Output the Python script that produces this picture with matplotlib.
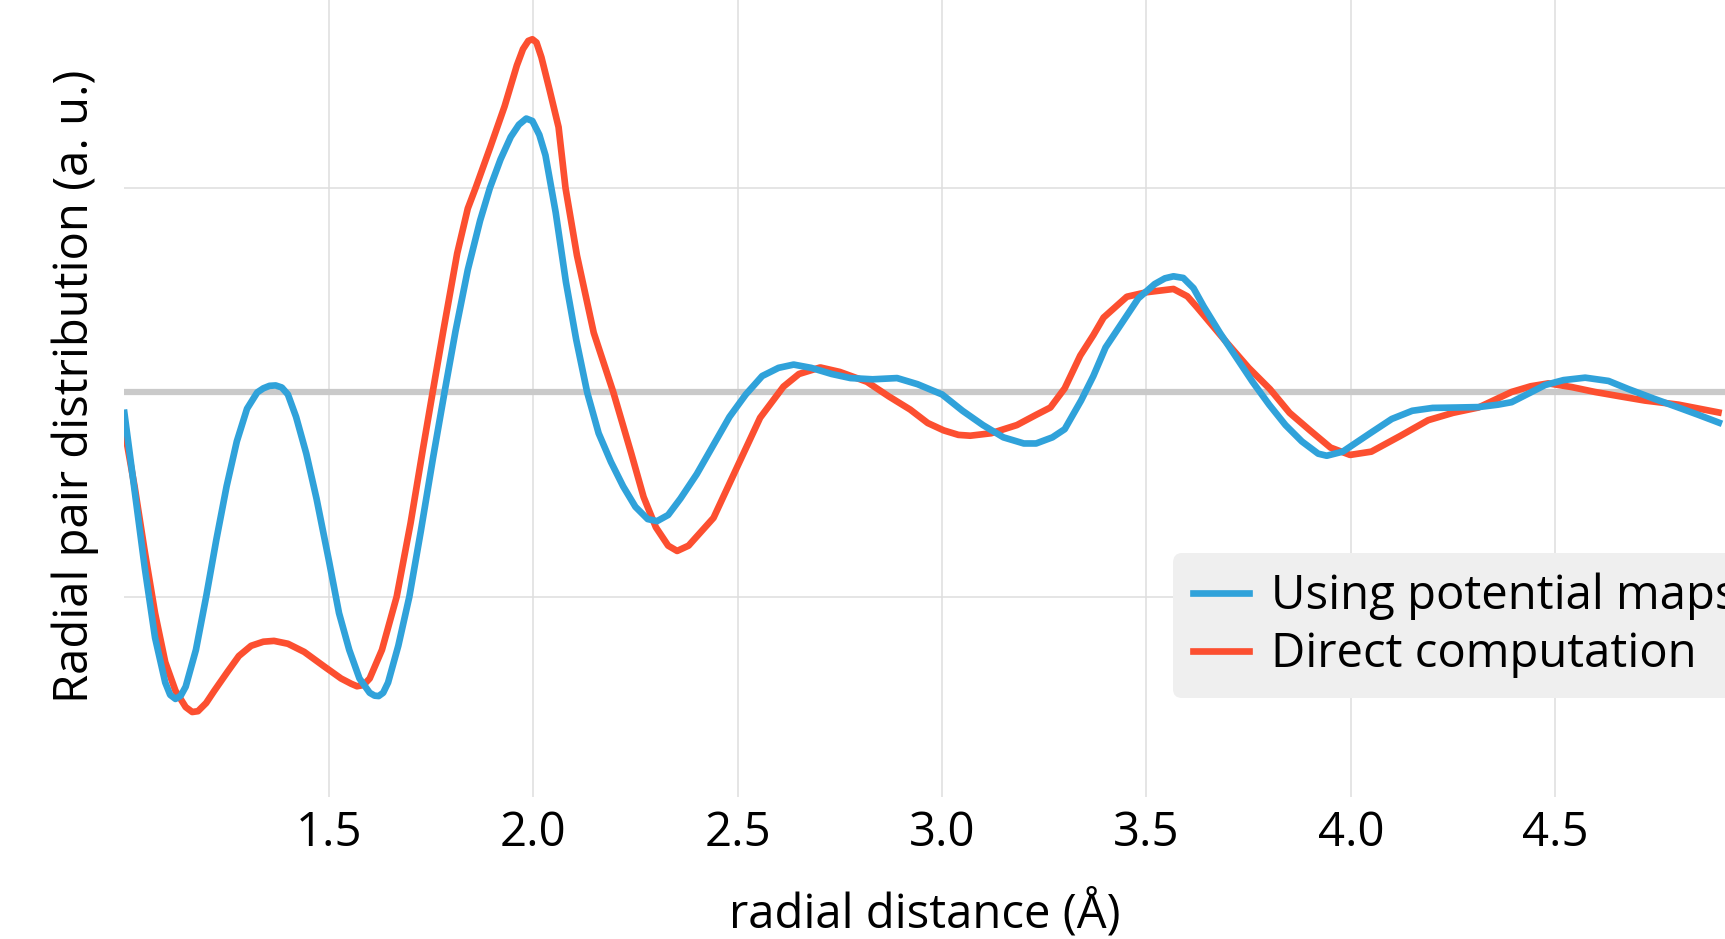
# radial pair distribution
import matplotlib
matplotlib.use('Agg')
import matplotlib.pyplot as plt

# radial distance / Å  (blue: using potential maps)
x_maps = [1.000, 1.025, 1.050, 1.075, 1.100, 1.112, 1.125, 1.138, 1.150, 1.175,
          1.200, 1.225, 1.250, 1.275, 1.300, 1.325, 1.340, 1.355, 1.370, 1.385,
          1.400, 1.420, 1.445, 1.470, 1.500, 1.525, 1.550, 1.575, 1.600, 1.612,
          1.622, 1.633, 1.645, 1.670, 1.697, 1.725, 1.755, 1.783, 1.810, 1.840,
          1.870, 1.894, 1.920, 1.945, 1.965, 1.983, 1.998, 2.015, 2.030, 2.055,
          2.080, 2.105, 2.132, 2.160, 2.190, 2.220, 2.250, 2.280, 2.303, 2.330,
          2.360, 2.400, 2.440, 2.480, 2.520, 2.560, 2.600, 2.637, 2.680, 2.730,
          2.776, 2.830, 2.890, 2.940, 3.000, 3.050, 3.100, 3.150, 3.200, 3.230,
          3.270, 3.300, 3.340, 3.370, 3.400, 3.440, 3.480, 3.520, 3.545, 3.566,
          3.590, 3.615, 3.640, 3.680, 3.720, 3.760, 3.800, 3.840, 3.880, 3.920,
          3.941, 3.980, 4.047, 4.100, 4.150, 4.200, 4.260, 4.312, 4.360, 4.393,
          4.440, 4.475, 4.520, 4.573, 4.630, 4.679, 4.740, 4.801, 4.850, 4.900]
y_maps = [0.950, 0.760, 0.570, 0.400, 0.290, 0.260, 0.250, 0.258, 0.280, 0.370,
          0.500, 0.640, 0.770, 0.880, 0.960, 1.000, 1.010, 1.016, 1.017, 1.012,
          0.995, 0.940, 0.850, 0.740, 0.590, 0.460, 0.370, 0.300, 0.265, 0.258,
          0.257, 0.265, 0.290, 0.380, 0.500, 0.660, 0.840, 1.000, 1.150, 1.300,
          1.420, 1.500, 1.570, 1.625, 1.655, 1.670, 1.664, 1.630, 1.580, 1.440,
          1.270, 1.130, 1.000, 0.900, 0.830, 0.770, 0.720, 0.690, 0.685, 0.700,
          0.740, 0.800, 0.870, 0.940, 0.995, 1.040, 1.060, 1.068, 1.060, 1.045,
          1.035, 1.032, 1.035, 1.020, 0.995, 0.955, 0.920, 0.890, 0.875, 0.875,
          0.890, 0.910, 0.980, 1.040, 1.110, 1.170, 1.230, 1.265, 1.279, 1.284,
          1.280, 1.255, 1.210, 1.145, 1.085, 1.025, 0.970, 0.920, 0.880, 0.850,
          0.845, 0.855, 0.900, 0.935, 0.955, 0.962, 0.963, 0.964, 0.970, 0.976,
          1.000, 1.018, 1.030, 1.036, 1.028, 1.008, 0.985, 0.963, 0.945, 0.926]

# red: direct computation
x_direct = [1.000, 1.025, 1.050, 1.075, 1.100, 1.125, 1.150, 1.166, 1.180, 1.200,
            1.220, 1.252, 1.280, 1.310, 1.340, 1.366, 1.400, 1.440, 1.488, 1.530,
            1.555, 1.569, 1.585, 1.600, 1.630, 1.666, 1.700, 1.730, 1.754, 1.780,
            1.814, 1.840, 1.859, 1.895, 1.930, 1.960, 1.975, 1.988, 1.998, 2.008,
            2.020, 2.040, 2.062, 2.079, 2.107, 2.148, 2.196, 2.240, 2.270, 2.300,
            2.330, 2.352, 2.380, 2.441, 2.500, 2.555, 2.612, 2.650, 2.702, 2.750,
            2.816, 2.870, 2.922, 2.965, 3.004, 3.040, 3.069, 3.120, 3.183, 3.230,
            3.265, 3.300, 3.338, 3.370, 3.395, 3.452, 3.500, 3.566, 3.600, 3.623,
            3.660, 3.697, 3.750, 3.802, 3.850, 3.900, 3.950, 3.998, 4.050, 4.120,
            4.189, 4.250, 4.312, 4.393, 4.440, 4.483, 4.540, 4.597, 4.660, 4.719,
            4.801, 4.899]
y_direct = [0.910, 0.770, 0.610, 0.460, 0.340, 0.270, 0.230, 0.218, 0.220, 0.240,
            0.270, 0.316, 0.355, 0.380, 0.390, 0.392, 0.385, 0.365, 0.330, 0.300,
            0.287, 0.281, 0.284, 0.300, 0.370, 0.500, 0.680, 0.860, 1.000, 1.150,
            1.340, 1.450, 1.500, 1.600, 1.700, 1.800, 1.840, 1.860, 1.864, 1.856,
            1.820, 1.740, 1.649, 1.500, 1.335, 1.146, 1.000, 0.850, 0.744, 0.670,
            0.625, 0.612, 0.625, 0.693, 0.820, 0.938, 1.014, 1.045, 1.061, 1.050,
            1.026, 0.990, 0.958, 0.925, 0.907, 0.896, 0.894, 0.900, 0.920, 0.945,
            0.963, 1.010, 1.090, 1.140, 1.183, 1.234, 1.245, 1.253, 1.235, 1.209,
            1.165, 1.121, 1.060, 1.008, 0.950, 0.907, 0.865, 0.847, 0.855, 0.893,
            0.932, 0.950, 0.963, 1.001, 1.015, 1.022, 1.013, 1.001, 0.990, 0.980,
            0.970, 0.951]

x_ticks = [1.5, 2.0, 2.5, 3.0, 3.5, 4.0, 4.5]
x_ticklabels = ['1.5', '2.0', '2.5', '3.0', '3.5', '4.0', '4.5']
y_grid = [0.5, 1.0, 1.5]

font = {'family': 'Open Sans', 'size': 34}
matplotlib.rc('font', **font)

fig = plt.figure(figsize=(17.25, 9.39), dpi=100)
ax = fig.add_axes([0.0721, 0.1512, 0.9279, 0.8488])

l2, = ax.plot(x_direct, y_direct, color='#fc4f30', linewidth=4.8, solid_joinstyle='round')
l1, = ax.plot(x_maps, y_maps, color='#30a2da', linewidth=4.8, solid_joinstyle='round')
ax.axhline(y=1.0, color='#cacaca', linewidth=4.5, zorder=1)  # 基线

ax.set_xlim(1.0, 4.915)
ax.set_ylim(0.01, 1.96)
ax.set_xticks(x_ticks)
ax.set_xticklabels(x_ticklabels)
ax.set_yticks(y_grid)
ax.set_yticklabels([])
ax.tick_params(length=0, pad=9)
ax.grid(color='#dedede', linewidth=1.1)
ax.set_axisbelow(True)
for s in ax.spines.values():
    s.set_visible(False)

ax.set_xlabel('radial distance (Å)')
ax.xaxis.set_label_coords(0.5, -0.115)
ax.set_ylabel('Radial pair distribution (a. u.)')
ax.yaxis.set_label_coords(-0.016, 0.515)

ax.legend(handles=[l1, l2], labels=['Using potential maps', 'Direct computation'],
          loc='upper left', bbox_to_anchor=(0.655, 0.306), borderaxespad=0,
          facecolor='#efefef', edgecolor='none', framealpha=1, fancybox=True,
          handlelength=1.2, handletextpad=0.47, borderpad=0.42, labelspacing=0.22)

fig.savefig('out.png', dpi=100)
